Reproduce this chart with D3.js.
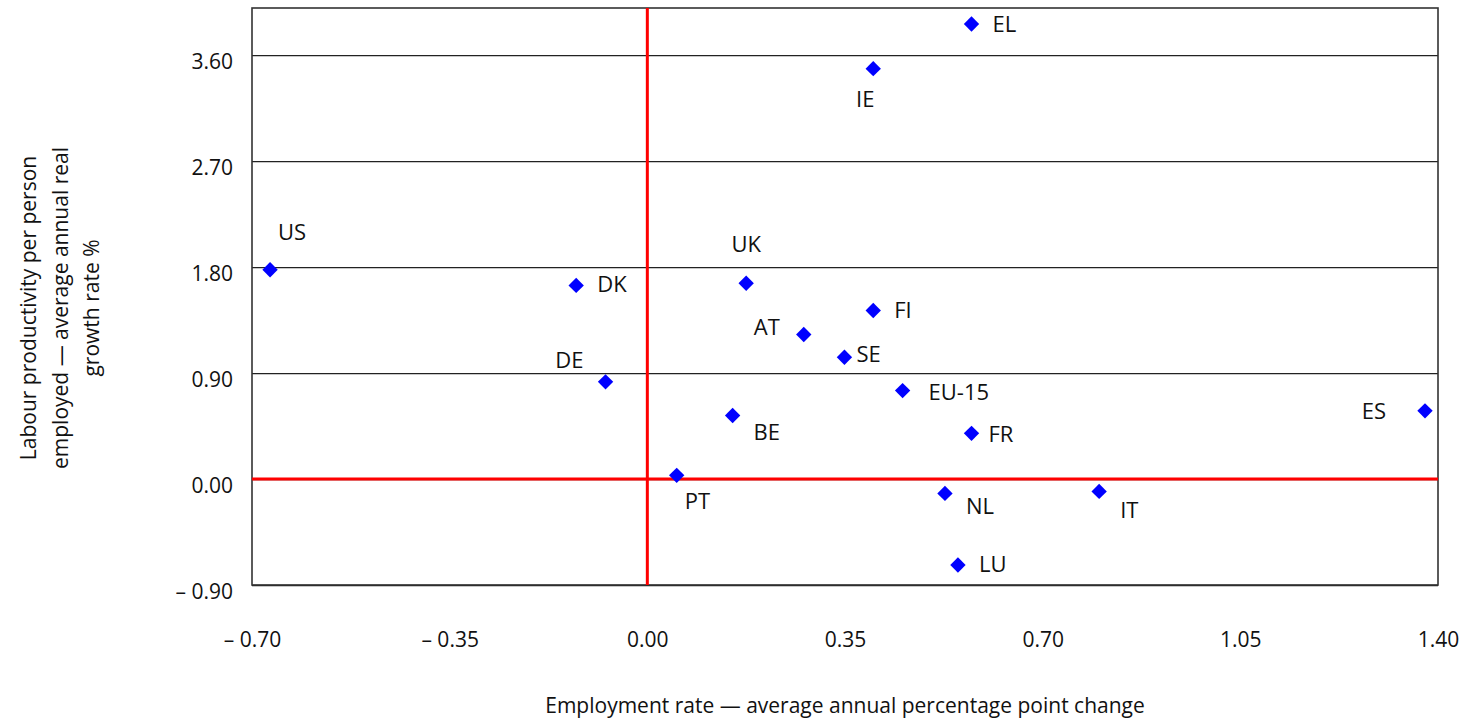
<!DOCTYPE html>
<html>
<head>
<meta charset="utf-8">
<script src="https://cdn.jsdelivr.net/npm/d3@7"></script>
<style>
  body { margin: 0; background: #fff; }
  text { font-family: "Open Sans", "Noto Sans", sans-serif; fill: #111; }
  .axis .domain { display: none; }
  .axis text { font-size: 21px; }
  .grid line { stroke: #222; stroke-width: 1.3; }
</style>
</head>
<body>
<div id="chart"></div>
<script>
var W = 1459, H = 725;
var margin = { top: 8, right: 21, bottom: 140, left: 252 };
var width = W - margin.left - margin.right,
  height = H - margin.top - margin.bottom;

// data
var countries = ['US', 'DK', 'DE', 'PT', 'BE', 'UK', 'AT', 'SE', 'FI', 'IE', 'EU-15', 'EL', 'FR', 'NL', 'LU', 'IT', 'ES'];
var employment = [-0.668, -0.126, -0.074, 0.052, 0.151, 0.175, 0.277, 0.349, 0.400, 0.400, 0.452, 0.574, 0.574, 0.527, 0.550, 0.800, 1.377];
var productivity = [1.777, 1.644, 0.825, 0.031, 0.539, 1.663, 1.227, 1.034, 1.431, 3.485, 0.751, 3.864, 0.388, -0.122, -0.730, -0.105, 0.579];

var xTicks = [-0.70, -0.35, 0.00, 0.35, 0.70, 1.05, 1.40];
var yTicks = [-0.90, 0.00, 0.90, 1.80, 2.70, 3.60];

var xTitle = 'Employment rate — average annual percentage point change';
var yTitle = ['Labour productivity per person', 'employed — average annual real', 'growth rate %'];

// where each label sits relative to its marker [dx, dy, anchor]
var labelPos = {
  'US': [8, -30, 'start'], 'DK': [21, 7, 'start'], 'DE': [-22, -14, 'end'],
  'PT': [8, 34, 'start'], 'BE': [21, 24, 'start'], 'UK': [0, -31, 'middle'],
  'AT': [-24, 0, 'end'], 'SE': [12, 5, 'start'], 'FI': [21, 7, 'start'],
  'IE': [-8, 38, 'middle'], 'EU-15': [26, 9, 'start'], 'EL': [21, 8, 'start'],
  'FR': [17, 9, 'start'], 'NL': [21, 21, 'start'], 'LU': [21, 7, 'start'],
  'IT': [21, 27, 'start'], 'ES': [-39, 8, 'end']
};

var fmt = function (d) {
  return d < 0 ? '– ' + Math.abs(d).toFixed(2) : d.toFixed(2);
};

var points = countries.map(function (c, i) {
  return { name: c, x: employment[i], y: productivity[i] };
});

var xScale = d3.scaleLinear().domain([-0.7, 1.4]).range([0, width]);
var yScale = d3.scaleLinear().domain([-0.9, 4.0]).range([height, 0]);

var svg = d3.select('#chart').append('svg')
  .attr('width', W)
  .attr('height', H);

var g = svg.append('g')
  .attr('transform', 'translate(' + margin.left + ',' + margin.top + ')');

// y axis with gridlines
var yAxis = d3.axisLeft(yScale)
  .tickValues(yTicks)
  .tickSize(-width)
  .tickPadding(19)
  .tickFormat(fmt);

g.append('g')
  .attr('class', 'axis grid')
  .call(yAxis)
  .selectAll('text')
  .attr('dy', '0.63em');

// x axis, labels only
var xAxis = d3.axisBottom(xScale)
  .tickValues(xTicks)
  .tickSize(0)
  .tickPadding(47)
  .tickFormat(fmt);

g.append('g')
  .attr('class', 'axis x')
  .attr('transform', 'translate(0,' + height + ')')
  .call(xAxis);

// frame
g.append('rect')
  .attr('width', width)
  .attr('height', height)
  .attr('fill', 'none')
  .attr('stroke', '#333')
  .attr('stroke-width', 1.6);

// red zero lines
g.append('line')
  .attr('x1', 0).attr('x2', width)
  .attr('y1', yScale(0)).attr('y2', yScale(0))
  .attr('stroke', '#ff0000')
  .attr('stroke-width', 3);

g.append('line')
  .attr('x1', xScale(0)).attr('x2', xScale(0))
  .attr('y1', 0).attr('y2', height)
  .attr('stroke', '#ff0000')
  .attr('stroke-width', 3);

// markers
var diamond = d3.symbol().type(d3.symbolSquare).size(118);

g.selectAll('path.pt')
  .data(points)
  .enter()
  .append('path')
  .attr('class', 'pt')
  .attr('d', diamond)
  .attr('fill', '#0000ff')
  .attr('transform', function (d) {
    return 'translate(' + xScale(d.x) + ',' + yScale(d.y) + ') rotate(45)';
  });

g.selectAll('text.lbl')
  .data(points)
  .enter()
  .append('text')
  .attr('class', 'lbl')
  .attr('x', function (d) { return xScale(d.x) + labelPos[d.name][0]; })
  .attr('y', function (d) { return yScale(d.y) + labelPos[d.name][1]; })
  .attr('text-anchor', function (d) { return labelPos[d.name][2]; })
  .style('font-size', '22px')
  .text(function (d) { return d.name; });

// axis titles
svg.append('text')
  .attr('x', margin.left + width / 2)
  .attr('y', 713)
  .attr('text-anchor', 'middle')
  .style('font-size', '21px')
  .text(xTitle);

var yt = svg.append('text')
  .attr('transform', 'translate(0,308) rotate(-90)')
  .attr('text-anchor', 'middle')
  .style('font-size', '21px');

yt.selectAll('tspan')
  .data(yTitle)
  .enter()
  .append('tspan')
  .attr('x', 0)
  .attr('y', function (d, i) { return 36 + i * 31.5; })
  .text(function (d) { return d; });
</script>
</body>
</html>
